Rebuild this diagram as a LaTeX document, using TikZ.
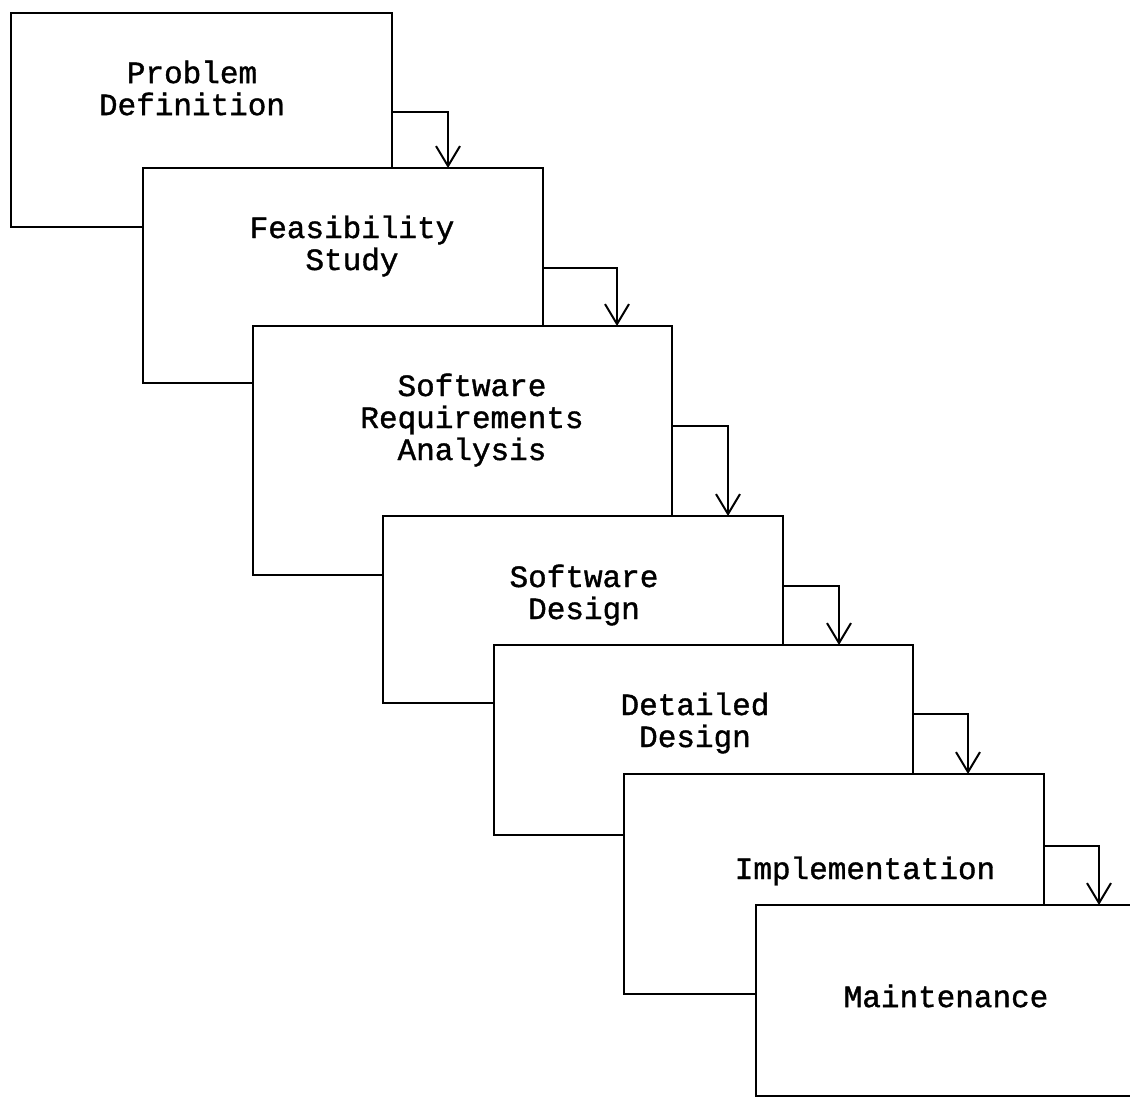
\documentclass[tikz,border=0pt]{standalone}
\usepackage{fontspec}
\newfontfamily\stagefamily[BoldFont={Liberation Mono},BoldFeatures={FakeBold=1.2}]{Liberation Mono}
\usetikzlibrary{arrows.meta}

\begin{document}
\begin{tikzpicture}[x=1pt,y=-1pt,
    stage/.style={draw,fill=white,line width=\rulewidth pt,inner sep=0,outer sep=0,anchor=north west},
    caption/.style={align=center,inner sep=0,font=\stagefont},
    flow/.style={line width=\rulewidth pt,-{Straight Barb[length=20pt,width=24pt,line width=\rulewidth pt]}}]
    \pgfmathsetmacro{\rulewidth}{2}
    \providecommand{\stagefont}{\stagefamily\bfseries\fontsize{31pt}{32pt}\selectfont}
    \useasboundingbox (0,0) rectangle (1130,1097);
    \clip (0,0) rectangle (1130,1097);
    % the stages, each one lying over the one before
    \node[stage,minimum width=381pt,minimum height=214pt] (pd) at (11,13) {};
    \node[stage,minimum width=400pt,minimum height=215pt] (fs) at (143,168) {};
    \node[stage,minimum width=419pt,minimum height=249pt] (sra) at (253,326) {};
    \node[stage,minimum width=400pt,minimum height=187pt] (sd) at (383,516) {};
    \node[stage,minimum width=419pt,minimum height=190pt] (dd) at (494,645) {};
    \node[stage,minimum width=420pt,minimum height=220pt] (im) at (624,774) {};
    \node[stage,minimum width=420pt,minimum height=191pt] (mt) at (756,905) {};
    \node[caption] (pdtext) at (192,88) {Problem\\Definition};
    \node[caption] (fstext) at (352,246) {Feasibility\\Study};
    \node[caption] (sratext) at (472,420) {Software\\Requirements\\Analysis};
    \node[caption] (sdtext) at (584,595) {Software\\Design};
    \node[caption] (ddtext) at (695,723) {Detailed\\Design};
    \node[caption] (imtext) at (865,871) {Implementation};
    \node[caption] (mttext) at (946,996) {Maintenance};
    % turning points of the arrows
    \coordinate (t1) at (448,112);
    \coordinate (t2) at (617,268);
    \coordinate (t3) at (728,426);
    \coordinate (t4) at (839,586);
    \coordinate (t5) at (968,714);
    \coordinate (t6) at (1099,846);
    \draw[flow] (pd.east |- t1) -| (fs.north -| t1);
    \draw[flow] (fs.east |- t2) -| (sra.north -| t2);
    \draw[flow] (sra.east |- t3) -| (sd.north -| t3);
    \draw[flow] (sd.east |- t4) -| (dd.north -| t4);
    \draw[flow] (dd.east |- t5) -| (im.north -| t5);
    \draw[flow] (im.east |- t6) -| (mt.north -| t6);
\end{tikzpicture}
\end{document}
